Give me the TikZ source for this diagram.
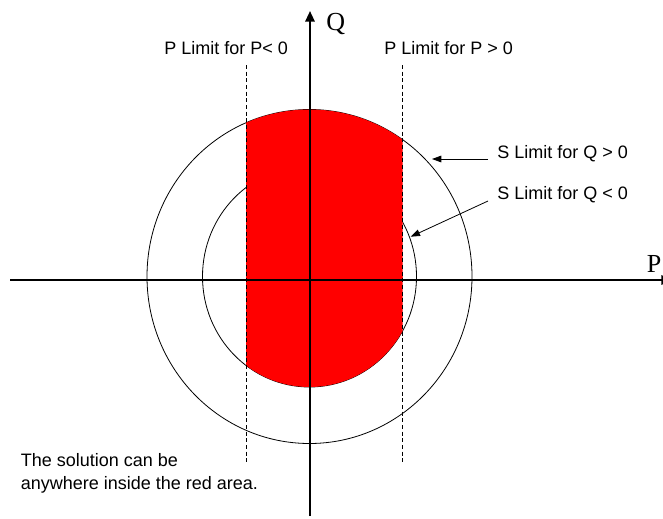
\documentclass[tikz,border=0pt]{standalone}
\usepackage{fontspec}
\setmainfont{Liberation Sans}
\newfontfamily\axisfont{Liberation Serif}
\usetikzlibrary{arrows.meta}

\begin{document}
\begin{tikzpicture}[x=0.75pt, y=-0.75pt,
  every node/.style={font=\fontsize{13.5}{17.25}\selectfont, inner sep=0pt},
  axis/.style={line width=1.5pt},
  axislabel/.style={font=\axisfont\fontsize{19.5}{22}\selectfont, anchor=base west},
  ring/.style={line width=0.6pt},
  limit/.style={line width=0.6pt, dash pattern=on 3pt off 2pt},
  pointer/.style={-{Triangle[length=7pt,width=5pt]}, line width=0.6pt}]

  \useasboundingbox (0,0) rectangle (663,518);
  \coordinate (c) at (309.5,276.5);

  %% S limits (outer: Q > 0, inner: Q < 0)
  \draw[ring] (c) ellipse [x radius=162.5, y radius=167];
  \draw[ring] (c) ellipse [x radius=107, y radius=110.5];

  %% Red area between the P limits
  \begin{scope}
    \clip (246,0) rectangle (402.5,277.5);
    \fill[red] (c) ellipse [x radius=162.5, y radius=167];
  \end{scope}
  \begin{scope}
    \clip (246,275.5) rectangle (402.5,518);
    \fill[red] (c) ellipse [x radius=107, y radius=110.5];
  \end{scope}

  %% P limits
  \draw[limit] (246,65) -- (246,463);
  \draw[limit] (402.5,65) -- (402.5,463);

  %% Axes
  \draw[axis, -{Triangle[length=8pt,width=7pt]}] (10,280) -- (672,280);
  \draw[axis, -{Triangle[length=8pt,width=7pt]}] (310,516) -- (310,11);
  \node[axislabel] (plab) at (646.5,272) {P};
  \node[axislabel] (qlab) at (326,30) {Q};

  %% Labels
  \node[anchor=base west] (pneg) at (164,54.5) {P Limit for P< 0};
  \node[anchor=base west] (ppos) at (384,54.5) {P Limit for P > 0};
  \node[anchor=base west] (sqpos) at (497,158.5) {S Limit for Q > 0};
  \node[anchor=base west] (sqneg) at (497,199.5) {S Limit for Q < 0};
  \node[anchor=north west, align=left] (note) at (20.5,453.5)
    {The solution can be\\anywhere inside the red area.};

  \coordinate (sqposTip) at (432,159);
  \coordinate (sqnegTip) at (410.7,236.7);
  \draw[pointer] ([shift={(-9,0.5)}]sqpos.base west) -- (sqposTip);
  \draw[pointer] ([shift={(-9,1.5)}]sqneg.base west) -- (sqnegTip);

\end{tikzpicture}
\end{document}
